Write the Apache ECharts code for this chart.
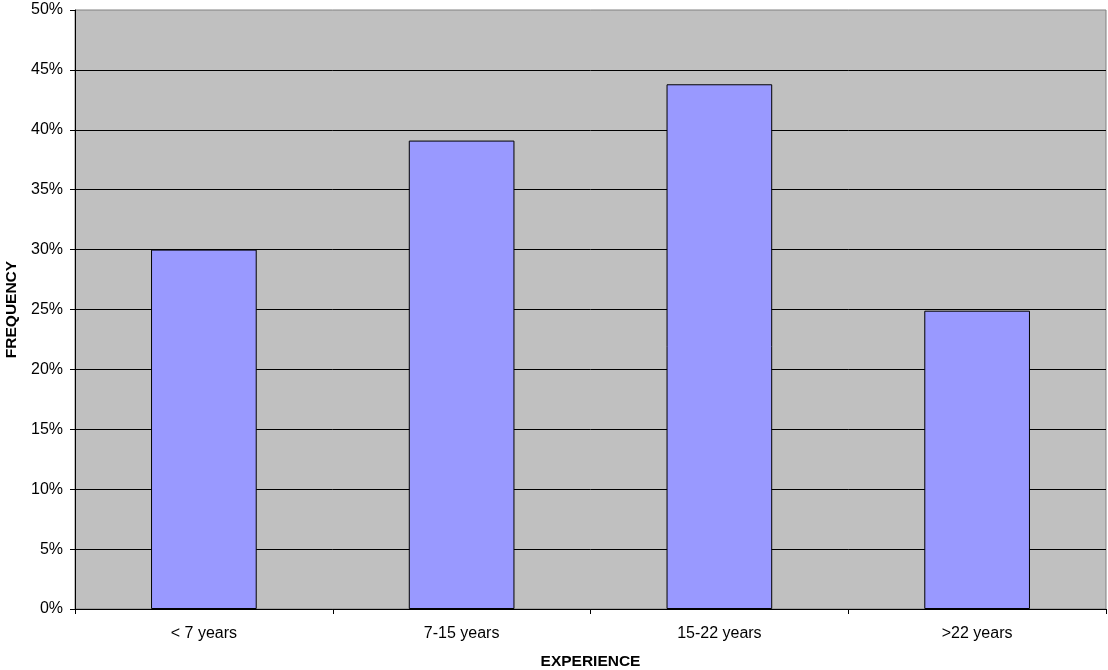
<!DOCTYPE html>
<html><head><meta charset="utf-8">
<script src="https://cdn.jsdelivr.net/npm/echarts@6/dist/echarts.min.js"></script>
<style>html,body{margin:0;padding:0;background:#fff}#c{width:1108px;height:670px}</style>
</head><body><div id="c"></div>
<script>
const categories = ['< 7 years', '7-15 years', '15-22 years', '>22 years'];
const frequency = [30.0, 39.1, 43.8, 24.9];
const yTicks = [0, 5, 10, 15, 20, 25, 30, 35, 40, 45, 50];

const chart = echarts.init(document.getElementById('c'));
const font = 'Liberation Sans, Arial, sans-serif';
chart.setOption({
  animation: false,
  grid: {left: 75, right: 2, top: 10, bottom: 61, outerBoundsMode: 'none', containLabel: false,
         show: true, backgroundColor: '#C0C0C0', borderColor: '#808080', borderWidth: 1},
  xAxis: {
    type: 'category', data: categories,
    name: 'EXPERIENCE', nameLocation: 'middle', nameGap: 45,
    nameTextStyle: {fontFamily: font, fontSize: 15.5, fontWeight: 'bold', color: '#000'},
    axisLine: {lineStyle: {color: '#000', width: 1}},
    axisTick: {show: true, alignWithLabel: false, length: 5, lineStyle: {color: '#000'}},
    axisLabel: {fontFamily: font, fontSize: 16, color: '#000', margin: 17}
  },
  yAxis: {
    type: 'value', min: yTicks[0], max: yTicks[yTicks.length - 1], interval: 5,
    name: 'FREQUENCY', nameLocation: 'middle', nameGap: 55, nameRotate: 90,
    nameTextStyle: {fontFamily: font, fontSize: 15.5, fontWeight: 'bold', color: '#000'},
    axisLine: {show: true, lineStyle: {color: '#000', width: 1}},
    axisTick: {show: true, length: 5, lineStyle: {color: '#000'}},
    axisLabel: {fontFamily: font, fontSize: 16, color: '#000', margin: 12, formatter: v => v + '%'},
    splitLine: {show: true, showMaxLine: false, lineStyle: {color: '#000', width: 1}}
  },
  series: [{
    type: 'bar', data: frequency, barWidth: '41%',
    itemStyle: {color: '#9999FF', borderColor: '#000', borderWidth: 1}
  }]
});
</script></body></html>
